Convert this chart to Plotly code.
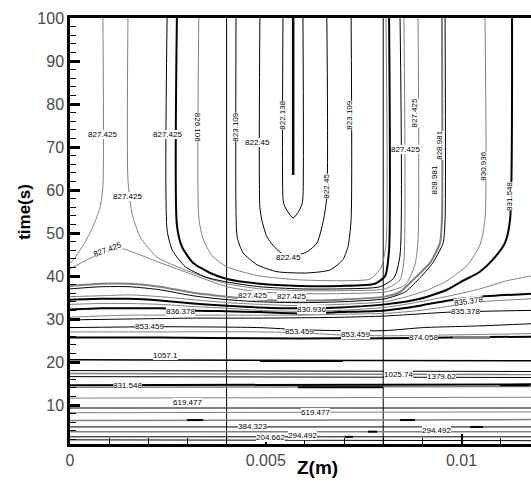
import plotly.graph_objects as go

# ---------------- data (z in mm, time in s) ----------------
# zone boundaries (m)
boundary_z = [0.004, 0.008]

# upper contour lines (U-shaped / descending from top)
l1_z = [0.84, 0.84, 0.77, 0.64, 0.46, 0.31, 0.08, 0]
l1_t = [100, 60.7, 56.1, 52.6, 49.1, 46.8, 43.6, 43.1]
l2_z = [0, 0.69, 0.97, 1.35, 1.79, 2.30, 3.14, 4.01, 4.85, 5.87, 6.90, 8.05, 8.56, 8.81, 8.89, 8.89]
l2_t = [41.7, 44.9, 45.8, 46.3, 44.9, 43.1, 40.3, 37.5, 36.3, 35.9, 35.9, 36.3, 37.9, 42.6, 48.4, 100]
uh_z = [1.48, 1.48, 1.58, 1.79, 2.22, 2.81, 3.58, 4.01, 4.85, 5.87, 6.90, 8.05, 8.43, 8.53, 8.53]
uh_t = [100, 62.4, 54.7, 49.1, 44.4, 41.9, 39.3, 38.2, 37.0, 36.6, 36.6, 37.0, 39.1, 43.8, 100]
ug_z = [2.48, 2.48, 2.61, 2.94, 3.45, 4.01, 4.85, 5.87, 6.90, 7.92, 8.28, 8.43, 8.43]
ug_t = [100, 50.7, 46.1, 42.2, 39.8, 38.6, 37.5, 37.0, 37.0, 37.5, 39.6, 44.9, 100]
uf_z = [2.73, 2.73, 2.86, 3.14, 3.58, 4.01, 4.85, 5.87, 6.90, 7.79, 8.05, 8.15, 8.15]
uf_t = [100, 51.9, 46.8, 43.1, 40.7, 39.3, 38.2, 37.7, 37.7, 38.2, 40.0, 46.1, 100]
ue_z = [3.29, 3.29, 3.40, 3.63, 4.01, 4.85, 5.87, 6.90, 7.66, 7.94, 8.07, 8.07]
ue_t = [100, 53.5, 48.6, 44.7, 42.1, 40.0, 39.1, 38.9, 39.3, 41.9, 47.2, 100]
ud_z = [4.24, 4.24, 4.27, 4.42, 4.78, 5.29, 6.05, 6.64, 6.97, 7.10, 7.18, 7.18]
ud_t = [100, 55, 49.1, 45.4, 42.6, 41.0, 40.7, 41.4, 43.8, 46.8, 53.1, 100]
uc_z = [4.85, 4.85, 4.90, 5.03, 5.29, 5.57, 6.05, 6.31, 6.46, 6.56, 6.56]
uc_t = [100, 56, 53.0, 49.1, 46.1, 44.5, 45.6, 47.7, 52.4, 58.4, 100]
ub_z = [5.44, 5.44, 5.47, 5.58, 5.70, 5.82, 5.92, 5.95, 5.95]
ub_t = [100, 58, 56.5, 54.7, 53.5, 54.7, 56.5, 58.4, 100]
ua_z = [5.70, 5.70]
ua_t = [100, 63.5]

# band lines (right legs / right edge -> left axis)
r1_z = [0, 0.77, 1.53, 2.30, 3.14, 4.01, 4.85, 5.87, 6.90, 8.05, 8.43, 8.76, 9.20, 9.45, 9.50, 9.50]
r1_t = [37.7, 38.2, 38.2, 37.5, 36.1, 35.2, 34.5, 34.3, 34.5, 35.2, 36.3, 39.1, 43.1, 47.7, 53.1, 100]
r2_z = [0, 0.77, 1.53, 2.30, 3.14, 4.01, 4.85, 5.87, 6.90, 8.05, 8.56, 8.89, 9.27, 9.53, 9.58, 9.58]
r2_t = [37.0, 37.5, 37.5, 36.8, 35.4, 34.5, 34.0, 33.8, 34.0, 34.7, 36.3, 39.1, 43.1, 47.7, 53.1, 100]
r3_z = [0, 0.77, 1.53, 2.30, 3.14, 4.01, 4.85, 5.87, 6.90, 8.05, 8.68, 9.20, 9.63, 10.14, 10.47, 10.60, 10.60]
r3_t = [35.2, 35.4, 35.6, 35.2, 34.5, 33.8, 33.4, 33.1, 33.4, 34.0, 35.4, 37.0, 38.9, 42.4, 47.2, 53.1, 100]
r4_z = [0, 0.77, 1.53, 2.30, 3.14, 4.01, 4.85, 5.87, 6.90, 8.05, 8.94, 9.63, 10.04, 10.47, 10.80, 11.11, 11.24, 11.29]
r4_t = [34.5, 34.7, 34.7, 34.3, 33.6, 33.1, 32.7, 32.5, 32.7, 33.4, 34.7, 36.8, 38.9, 41.0, 43.8, 47.7, 53.1, 100]
e1_z = [0, 0.77, 1.53, 2.30, 3.14, 4.01, 4.85, 5.87, 6.90, 8.05, 8.94, 9.71, 10.47, 11.16, 11.78]
e1_t = [33.4, 33.6, 33.6, 33.4, 32.9, 32.5, 32.0, 31.8, 32.0, 32.7, 34.0, 35.4, 37.0, 38.9, 40.0]
e2_z = [0, 0.77, 1.53, 2.30, 3.14, 4.01, 4.85, 5.87, 6.90, 8.05, 8.94, 9.78, 10.47, 11.78]
e2_t = [32.2, 32.5, 32.5, 32.5, 32.0, 31.8, 31.6, 31.3, 31.6, 32.0, 33.1, 34.5, 35.2, 35.9]
e3_z = [0, 0.77, 1.53, 2.30, 3.14, 4.01, 4.85, 5.87, 6.90, 8.05, 8.94, 9.78, 10.47, 11.78]
e3_t = [30.4, 30.7, 30.9, 30.9, 30.9, 30.9, 30.9, 30.9, 31.1, 31.3, 32.0, 33.1, 34.0, 34.7]
e4_z = [0, 1.53, 3.14, 4.85, 6.90, 8.05, 9.71, 11.78]
e4_t = [29.8, 30.0, 30.2, 30.2, 30.4, 30.7, 31.6, 32.0]
e5_z = [0, 2.30, 4.85, 5.87, 6.90, 8.05, 9.02, 10.47, 11.78]
e5_t = [28.0, 28.2, 28.0, 27.5, 27.3, 27.3, 28.0, 28.4, 28.9]
e6_z = [0, 2.30, 4.85, 5.87, 6.90, 8.05, 9.71, 11.78]
e6_t = [27.0, 27.0, 27.0, 26.8, 26.3, 26.1, 26.3, 26.6]
e7_z = [0, 2.30, 4.85, 6.90, 8.05, 9.71, 11.78]
e7_t = [25.7, 25.7, 25.5, 25.5, 25.5, 25.7, 25.9]

# lower, nearly horizontal lines: time at z=0 and at right edge
flat_z = [0, 11.78]
flat_t_left = [20.5, 18.0, 17.3, 16.6, 14.6, 14.1, 11.6, 9.3, 8.2, 6.4, 4.9, 3.8, 2.6, 1.9]
flat_t_right = [20.3, 17.8, 17.1, 16.4, 14.8, 14.3, 11.8, 9.3, 8.4, 6.6, 4.9, 3.8, 2.6, 1.7]

# short overlapping segments
stub_z0 = [2.99, 8.43, 7.02, 7.61, 10.22, 9.78, 10.98, 4.85, 5.82]
stub_z1 = [3.40, 8.81, 7.23, 7.84, 10.55, 10.73, 11.75, 6.97, 8.00]
stub_t = [6.5, 6.5, 2.6, 3.8, 4.9, 25.7, 14.6, 20.25, 14.1]

# contour labels
label_text = ["827.425", "827.425", "826.106", "823.109", "822.45", "822.138", "823.109",
              "822.45", "827.425", "827.425", "828.981", "828.981", "830.936", "831.548",
              "827.425", "827.425", "822.45", "827.425", "827.425", "836.378", "830.936",
              "835.378", "835.378", "853.459", "853.459", "853.459", "874.058", "1057.1",
              "1025.74", "1379.62", "831.548", "619.477", "619.477", "384.323", "204.662",
              "294.492", "294.492"]
label_z = [0.82, 2.50, 3.24, 4.24, 4.80, 5.44, 7.15, 6.56, 8.81, 8.56, 9.45, 9.32, 10.57, 11.21,
           1.46, 0.97, 5.57, 4.67, 5.67, 2.81, 6.18, 10.17, 10.09, 2.04, 5.87, 7.28, 9.02, 2.43,
           8.38, 9.50, 1.48, 2.99, 6.26, 4.65, 5.11, 5.93, 9.35]
label_t = [72.8, 72.8, 74.5, 74.5, 71.0, 77.5, 77.5, 61.0, 78.0, 69.4, 70.5, 62.4, 65.6, 58.6,
           58.6, 46.1, 44.2, 35.4, 35.2, 31.7, 32.3, 34.0, 31.7, 28.2, 27.2, 26.5, 25.6, 21.6,
           17.2, 16.7, 14.5, 10.5, 8.2, 4.9, 2.4, 3.0, 4.0]
label_angle = [0, 0, 90, -90, 0, -90, -90, -90, -90, 0, -90, -90, -90, -90,
               0, -20, 0, 0, 0, 0, 0, -8, 0, 0, 0, 0, 0, 0,
               0, 0, 0, 0, 0, 0, 0, 0, 0]

x_title = "Z(m)"
y_title = "time(s)"

# ---------------- figure ----------------
BLACK = "#000000"
GRAY = "#808080"
MM = 1e-3

lines = [
    (l1_z, l1_t, GRAY, 1), (l2_z, l2_t, GRAY, 1), (uh_z, uh_t, GRAY, 1),
    (ug_z, ug_t, BLACK, 1), (uf_z, uf_t, BLACK, 2), (ue_z, ue_t, GRAY, 1),
    (ud_z, ud_t, BLACK, 1), (uc_z, uc_t, BLACK, 1), (ub_z, ub_t, BLACK, 1),
    (ua_z, ua_t, BLACK, 2.5),
    (r1_z, r1_t, GRAY, 2), (r2_z, r2_t, BLACK, 1), (r3_z, r3_t, GRAY, 1),
    (r4_z, r4_t, BLACK, 2), (e1_z, e1_t, GRAY, 1), (e2_z, e2_t, BLACK, 2),
    (e3_z, e3_t, GRAY, 1), (e4_z, e4_t, BLACK, 1), (e5_z, e5_t, BLACK, 1),
    (e6_z, e6_t, GRAY, 1), (e7_z, e7_t, BLACK, 2),
]
flat_styles = [(BLACK, 1.5), (BLACK, 1), (GRAY, 1.5), (BLACK, 1), (BLACK, 2), (GRAY, 1.5),
               (GRAY, 1), (BLACK, 1), (GRAY, 1), (GRAY, 1.5), (BLACK, 1), (GRAY, 1.5),
               (BLACK, 1), (BLACK, 1)]
stub_styles = [(BLACK, 2), (BLACK, 2), (BLACK, 2), (BLACK, 2), (BLACK, 2), (GRAY, 3),
               (BLACK, 2), (BLACK, 2), (BLACK, 2)]

fig = go.Figure()

for bz in boundary_z:
    fig.add_trace(go.Scatter(x=[bz, bz], y=[0, 100], mode="lines",
                             line=dict(color=BLACK, width=1), hoverinfo="skip"))

for z, t, c, w in lines:
    fig.add_trace(go.Scatter(x=[v * MM for v in z], y=t, mode="lines",
                             line=dict(color=c, width=w, shape="spline", smoothing=0.6),
                             hoverinfo="skip"))

for tl, tr, (c, w) in zip(flat_t_left, flat_t_right, flat_styles):
    fig.add_trace(go.Scatter(x=[v * MM for v in flat_z], y=[tl, tr], mode="lines",
                             line=dict(color=c, width=w), hoverinfo="skip"))

for z0, z1, t, (c, w) in zip(stub_z0, stub_z1, stub_t, stub_styles):
    fig.add_trace(go.Scatter(x=[z0 * MM, z1 * MM], y=[t, t], mode="lines",
                             line=dict(color=c, width=w), hoverinfo="skip"))

for txt, z, t, a in zip(label_text, label_z, label_t, label_angle):
    fig.add_annotation(x=z * MM, y=t, text=txt, showarrow=False, textangle=a,
                       font=dict(family="Liberation Sans, Arial", size=8, color=BLACK),
                       bgcolor="white", borderpad=0, borderwidth=0)

fig.add_annotation(xref="paper", yref="paper", x=-0.0976, y=0.545, text="<b>%s</b>" % y_title,
                   textangle=-90, showarrow=False, xanchor="center", yanchor="middle",
                   font=dict(family="Liberation Sans, Arial", size=17, color=BLACK))
fig.add_annotation(xref="paper", yref="paper", x=0.536, y=-0.056, text="<b>%s</b>" % x_title,
                   showarrow=False, xanchor="center", yanchor="middle",
                   font=dict(family="Liberation Sans, Arial", size=19, color=BLACK))

tickfont = dict(family="Liberation Sans, Arial", size=16, color="#4a4a4a")
fig.update_xaxes(range=[0, 0.011775], tick0=0, dtick=0.005, ticks="inside", ticklen=10,
                 tickwidth=2, tickcolor=BLACK, showline=True, linecolor=BLACK, linewidth=2.5,
                 mirror=True, showgrid=False, zeroline=False, tickfont=tickfont,
                 minor=dict(dtick=0.001, tick0=0, ticks="inside", ticklen=6, tickwidth=1,
                            tickcolor=BLACK))
fig.update_yaxes(range=[0.93, 100], tick0=0, dtick=10, ticks="inside", ticklen=10,
                 tickwidth=2.5, tickcolor=BLACK, showline=True, linecolor=BLACK, linewidth=2.5,
                 showgrid=False, zeroline=False, tickfont=tickfont,
                 minor=dict(dtick=2, tick0=0, ticks="inside", ticklen=6, tickwidth=1,
                            tickcolor=BLACK))
fig.update_layout(width=531, height=487, margin=dict(l=70, r=0, t=18, b=43),
                  plot_bgcolor="white", paper_bgcolor="white", showlegend=False)

# remove the default page margin so the figure fills the window exactly
fig.write_html("out.html", config={"displayModeBar": False},
               post_script="document.body.style.margin='0';"
                           "document.documentElement.style.overflow='hidden';"
                           "document.body.style.overflow='hidden';")
